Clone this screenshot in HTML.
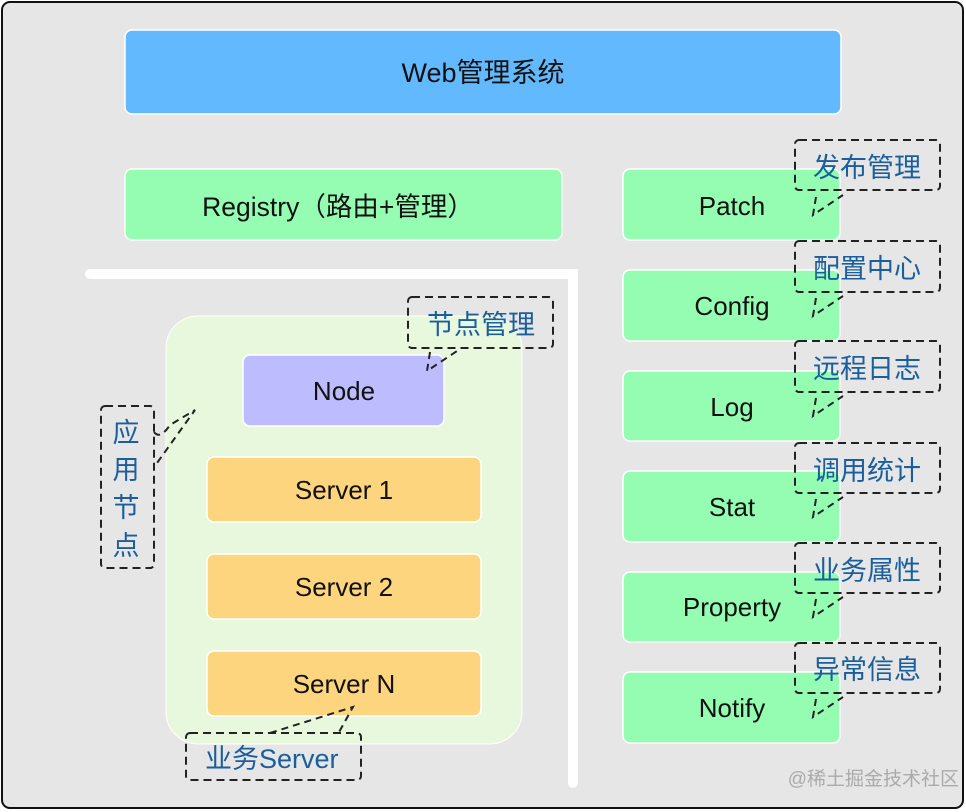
<!DOCTYPE html>
<html><head><meta charset="utf-8"><style>
html,body{margin:0;padding:0;background:#fff}
svg{display:block}
text{font-family:"Liberation Sans","Noto Sans CJK SC",sans-serif}
</style></head><body>
<svg width="966" height="812" viewBox="0 0 966 812" xmlns="http://www.w3.org/2000/svg">
<rect x="2" y="2" width="961" height="806" rx="8" fill="#e6e6e6" stroke="#111" stroke-width="2"/>
<rect x="125" y="30" width="716" height="84" rx="7" fill="#63b9fe" stroke="#fff" stroke-width="1.5"/>
<text x="483" y="82" font-size="27" text-anchor="middle" fill="#111">Web管理系统</text>
<rect x="125" y="169" width="437" height="71" rx="7" fill="#94fdb2" stroke="#fff" stroke-width="1.5"/>
<text x="338" y="216" font-size="26.5" text-anchor="middle" fill="#111">Registry（路由+管理）</text>
<path d="M90 274 H573 V783" fill="none" stroke="#fff" stroke-width="10" stroke-linecap="round"/>
<rect x="166" y="316" width="356" height="428" rx="32" fill="#e8f8dc" stroke="#fff" stroke-width="1"/>
<rect x="243" y="355" width="201" height="71" rx="7" fill="#bcbcfe" stroke="#fff" stroke-width="1.5"/>
<text x="344" y="400" font-size="26" text-anchor="middle" fill="#111">Node</text>
<g fill="#fed57f" stroke="#fff" stroke-width="1.5">
<rect x="207" y="457" width="274" height="65" rx="7"/>
<rect x="207" y="554" width="274" height="65" rx="7"/>
<rect x="207" y="651" width="274" height="65" rx="7"/>
</g>
<g font-size="26" text-anchor="middle" fill="#111">
<text x="344" y="499">Server 1</text>
<text x="344" y="596">Server 2</text>
<text x="344" y="693">Server N</text>
</g>
<g fill="#94fdb2" stroke="#fff" stroke-width="1.5">
<rect x="623" y="169" width="217" height="71" rx="7"/>
<rect x="623" y="270" width="217" height="71" rx="7"/>
<rect x="623" y="371" width="217" height="70" rx="7"/>
<rect x="623" y="471" width="217" height="71" rx="7"/>
<rect x="623" y="572" width="217" height="70" rx="7"/>
<rect x="623" y="672" width="217" height="71" rx="7"/>
</g>
<g font-size="26" text-anchor="middle" fill="#111">
<text x="732" y="215">Patch</text>
<text x="732" y="315">Config</text>
<text x="732" y="416">Log</text>
<text x="732" y="516">Stat</text>
<text x="732" y="616">Property</text>
<text x="732" y="717">Notify</text>
</g>
<g fill="none" stroke="#222" stroke-width="2" stroke-dasharray="8,5">
<rect x="795" y="140" width="145" height="50" rx="4"/>
<rect x="795" y="241" width="145" height="51" rx="4"/>
<rect x="795" y="341" width="145" height="51" rx="4"/>
<rect x="795" y="443" width="145" height="50" rx="4"/>
<rect x="795" y="543" width="145" height="50" rx="4"/>
<rect x="795" y="643" width="145" height="50" rx="4"/>
<rect x="408" y="297" width="145" height="51" rx="4"/>
<rect x="101" y="406" width="53" height="162" rx="4"/>
<rect x="186" y="733" width="175" height="47" rx="4"/>
</g>
<g fill="none" stroke="#222" stroke-width="2" stroke-dasharray="7,5">
<path d="M816 197 L813 215 L843 195"/>
<path d="M816 298 L813 316 L843 296"/>
<path d="M816 398 L813 416 L843 396"/>
<path d="M816 499 L813 517 L843 497"/>
<path d="M816 599 L813 617 L843 597"/>
<path d="M816 699 L813 717 L843 697"/>
<path d="M430 352 L427 371 L457 351"/>
<path d="M154 432 Q160 440 170 425 L195 410 L157 463"/>
<path d="M270 733 L353 707 L338 734"/>
</g>
<g font-size="27" fill="#1b5e9c">
<text x="867" y="177" text-anchor="middle">发布管理</text>
<text x="867" y="278" text-anchor="middle">配置中心</text>
<text x="867" y="378" text-anchor="middle">远程日志</text>
<text x="867" y="480" text-anchor="middle">调用统计</text>
<text x="867" y="580" text-anchor="middle">业务属性</text>
<text x="867" y="679" text-anchor="middle">异常信息</text>
<text x="481" y="334" text-anchor="middle">节点管理</text>
<text x="126" y="442" text-anchor="middle">应</text>
<text x="126" y="479" text-anchor="middle">用</text>
<text x="126" y="517" text-anchor="middle">节</text>
<text x="126" y="555" text-anchor="middle">点</text>
<text x="205" y="768">业务Server</text>
</g>
<text x="959" y="785" font-size="19" text-anchor="end" fill="#aaa">@稀土掘金技术社区</text>
</svg>
</body></html>
